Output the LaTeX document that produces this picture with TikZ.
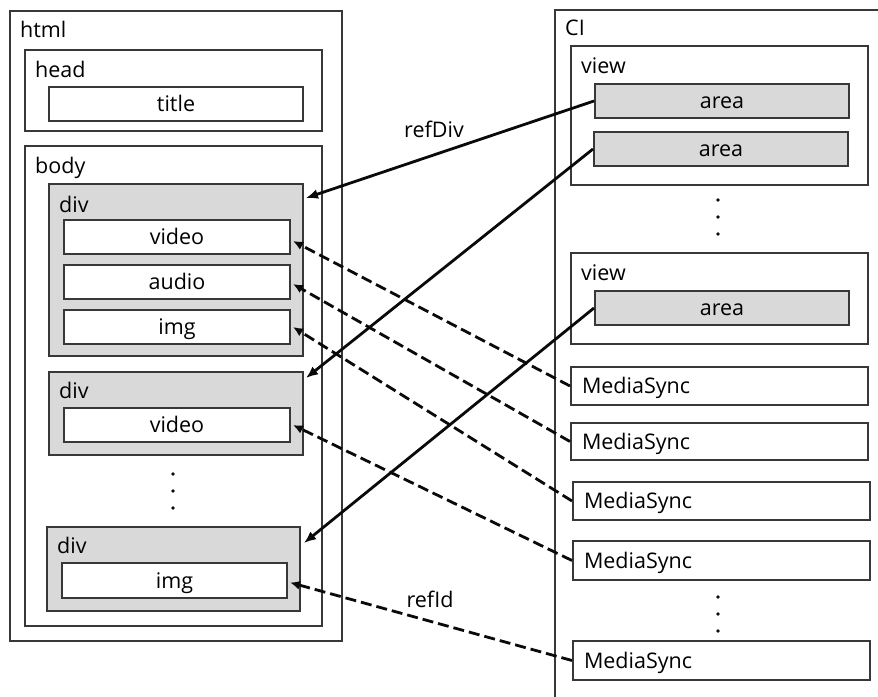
\documentclass[tikz,border=0pt]{standalone}
\usepackage{fontspec}
\setmainfont{Open Sans}
\usetikzlibrary{arrows.meta}

\definecolor{boxline}{HTML}{383838}
\definecolor{boxfill}{HTML}{D9D9D9}
\definecolor{linkcol}{HTML}{0A0A0A}

% \rbox{style}{name}{x1}{y1}{x2}{y2}{text}: a box given by its corners
\newcommand\rbox[7]{%
  \node[#1, minimum width={(#5-#3)*1pt}, minimum height={(#6-#4)*1pt}]
    (#2) at ({(#3+#5)/2},{(#4+#6)/2}) {#7};}

\begin{document}
\begin{tikzpicture}[x=1pt,y=-1pt,
  font=\fontsize{21.5}{24}\selectfont,
  frame/.style={draw=boxline, line width=2pt, fill=white, inner sep=0pt},
  grey/.style={frame, fill=boxfill},
  item/.style={frame, text height=15pt, text depth=0pt},
  areabox/.style={grey, text height=15pt, text depth=0pt},
  syncbox/.style={frame, text height=15pt, text depth=0pt, inner xsep=11pt,
    align=left, text width={(#1-22)*1pt}},
  tag/.style={anchor=base west, inner sep=0pt},
  reflabel/.style={anchor=base, inner sep=0pt},
  refline/.style={draw=linkcol, line width=2.8pt,
    -{Latex[length=12pt,width=10pt]}},
  syncline/.style={draw=linkcol, line width=2.8pt, dash pattern=on 11pt off 5pt,
    -{Latex[length=10pt,width=9pt]}},
  dot/.style={circle, fill=linkcol, inner sep=0pt, minimum size=3.6pt}]

\useasboundingbox (0,0) rectangle (878,696);
\clip (0,0) rectangle (878,696);
\fill[white] (0,0) rectangle (878,696);

% ---------------- html document tree ----------------
\rbox{frame}{html}{10}{11}{342}{641}{}
\node[tag] (htmlT) at (20,37) {html};

\rbox{frame}{head}{25}{50}{322}{131}{}
\node[tag] (headT) at (35,77) {head};
\rbox{item}{title}{49}{87}{303}{121}{title}

\rbox{frame}{body}{25}{146}{322}{626}{}
\node[tag] (bodyT) at (35,173) {body};

\rbox{grey}{divA}{49}{184}{303}{356}{}
\node[tag] (divAT) at (59,212) {div};
\rbox{item}{videoA}{64}{220}{290}{254}{video}
\rbox{item}{audioA}{64}{265}{290}{299}{audio}
\rbox{item}{imgA}{64}{310}{290}{344}{img}

\rbox{grey}{divB}{49}{372}{303}{455}{}
\node[tag] (divBT) at (59,398) {div};
\rbox{item}{videoB}{64}{408}{290}{442}{video}

\node[dot] (ldotA) at (173,474) {};
\node[dot] (ldotB) at (173,491) {};
\node[dot] (ldotC) at (173,508) {};

\rbox{grey}{divC}{47}{527}{300}{611}{}
\node[tag] (divCT) at (57,553) {div};
\rbox{item}{imgC}{62}{563}{287}{598}{img}

% ---------------- CI tree ----------------
\rbox{frame}{ci}{555}{10}{890}{710}{}
\node[tag] (ciT) at (565,35) {CI};

\rbox{frame}{viewA}{571}{46}{868}{185}{}
\node[tag] (viewAT) at (581,73) {view};
\rbox{areabox}{areaA}{595}{84}{849}{118}{area}
\rbox{areabox}{areaB}{594}{132}{848}{166}{area}

\node[dot] (rdotA) at (718,200) {};
\node[dot] (rdotB) at (718,217) {};
\node[dot] (rdotC) at (718,234) {};

\rbox{frame}{viewB}{571}{253}{868}{344}{}
\node[tag] (viewBT) at (581,280) {view};
\rbox{areabox}{areaC}{595}{291}{849}{325}{area}

\rbox{syncbox=297}{msA}{571}{367}{868}{405}{MediaSync}
\rbox{syncbox=297}{msB}{571}{423}{868}{460}{MediaSync}
\rbox{syncbox=297}{msC}{573}{482}{870}{520}{MediaSync}
\rbox{syncbox=297}{msD}{573}{541}{870}{580}{MediaSync}

\node[dot] (sdotA) at (718,597) {};
\node[dot] (sdotB) at (718,614) {};
\node[dot] (sdotC) at (718,631) {};

\rbox{syncbox=297}{msE}{573}{641}{870}{680}{MediaSync}

% ---------------- references ----------------
\draw[refline] (areaA.west) -- ([xshift=2pt,yshift=-15pt]divA.north east);
\draw[refline] (areaB.west) -- ([xshift=2pt,yshift=-7pt]divB.north east);
\draw[refline] (areaC.west) -- ([xshift=3pt,yshift=-17pt]divC.north east);

\draw[syncline] (msA.west) -- ([xshift=2pt,yshift=-4pt]videoA.east);
\draw[syncline] (msB.west) -- ([xshift=2pt,yshift=-2pt]audioA.east);
\draw[syncline] (msC.west) -- ([xshift=2pt]imgA.east);
\draw[syncline] (msD.west) -- ([xshift=2pt]videoB.east);
\draw[syncline] (msE.west) -- ([xshift=2pt,yshift=-2pt]imgC.east);

\node[reflabel] (refDiv) at (434,137) {refDiv};
\node[reflabel] (refId) at (430,607) {refId};
\end{tikzpicture}
\end{document}
